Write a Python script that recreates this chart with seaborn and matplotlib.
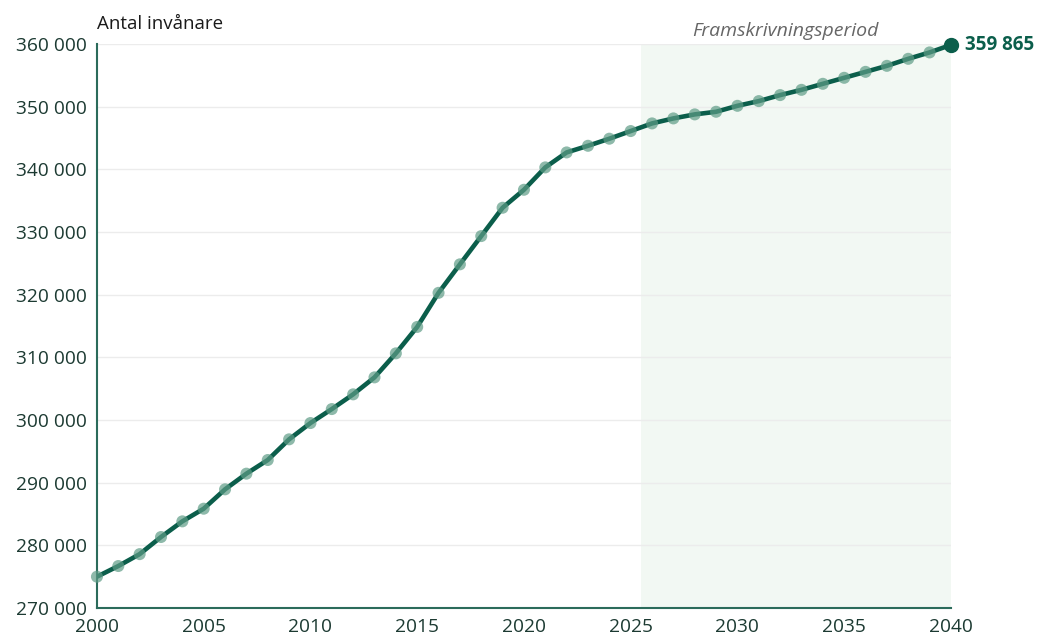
import matplotlib
matplotlib.use("Agg")
import matplotlib.pyplot as plt
import matplotlib.ticker as mticker
import numpy as np
import pandas as pd
import seaborn as sns

# Antal invånare per år, utfall + framskrivning
years = list(range(2000, 2041))
population = [
    275000, 276700, 278600, 281330, 283830, 285850, 288940, 291440, 293620, 296920,
    299520, 301750, 304100, 306810, 310640, 314860, 320300, 324850, 329360, 333880,
    336750, 340320, 342710, 343770, 344900, 346120, 347340, 348140, 348780, 349200,
    350150, 350900, 351860, 352700, 353660, 354620, 355570, 356530, 357650, 358670,
    359865,
]
proj_start = 2025.5
proj_end = 2040
proj_label = "Framskrivningsperiod"
y_label = "Antal invånare"

df = pd.DataFrame({"year": years, "pop": population})

green = "#0b5e4b"
dot = "#5e9c86"
axcol = "#2b6b5b"
txt = "#1c3a32"

sns.set_style("white")
plt.rcParams["font.family"] = ["Open Sans", "DejaVu Sans"]

fig = plt.figure(figsize=(10.37, 6.39), dpi=100)
ax = fig.add_axes([0.0935, 0.0485, 0.8235, 0.8825])

ax.axvspan(proj_start, proj_end, color="#f2f8f3", zorder=0, lw=0)
for yv in range(270000, 360001, 10000):
    ax.axhline(yv, color="#ececec", lw=1, zorder=1)

sns.lineplot(data=df, x="year", y="pop", color=green, lw=3.3, ax=ax, zorder=3)
sns.scatterplot(data=df, x="year", y="pop", color=dot, s=75, alpha=0.7,
                edgecolor="none", ax=ax, zorder=4, clip_on=False)
last = df.iloc[-1]
ax.scatter([last["year"]], [last["pop"]], s=100, color=green, zorder=5, clip_on=False)
ax.annotate(f"{int(last['pop']):,}".replace(",", " "), (last["year"], last["pop"]),
            xytext=(10, 0), textcoords="offset points", va="center", ha="left",
            fontsize=13.5, fontweight="bold", color=green, annotation_clip=False)

ax.text((proj_start + proj_end) / 2 - 0.5, 360700, proj_label, ha="center", va="bottom",
        fontsize=14, style="italic", color="#666666")
ax.text(0.0, 1.02, y_label, transform=ax.transAxes, ha="left", va="bottom",
        fontsize=13.5, color="#1a1a1a")

ax.set_xlim(2000, 2040)
ax.set_ylim(270000, 360000)
ax.set_xticks(range(2000, 2041, 5))
ax.set_yticks(range(270000, 360001, 10000))
ax.yaxis.set_major_formatter(mticker.FuncFormatter(lambda v, p: f"{int(v):,}".replace(",", " ")))
ax.set_xlabel("")
ax.set_ylabel("")
ax.tick_params(axis="both", labelsize=13.8, labelcolor=txt, color=axcol, length=4,
               width=1.2, direction="out", pad=3)
for s in ["top", "right"]:
    ax.spines[s].set_visible(False)
for s in ["left", "bottom"]:
    ax.spines[s].set_color(axcol)
    ax.spines[s].set_linewidth(1.5)
ax.grid(False)

fig.savefig("out.png", dpi=100)
